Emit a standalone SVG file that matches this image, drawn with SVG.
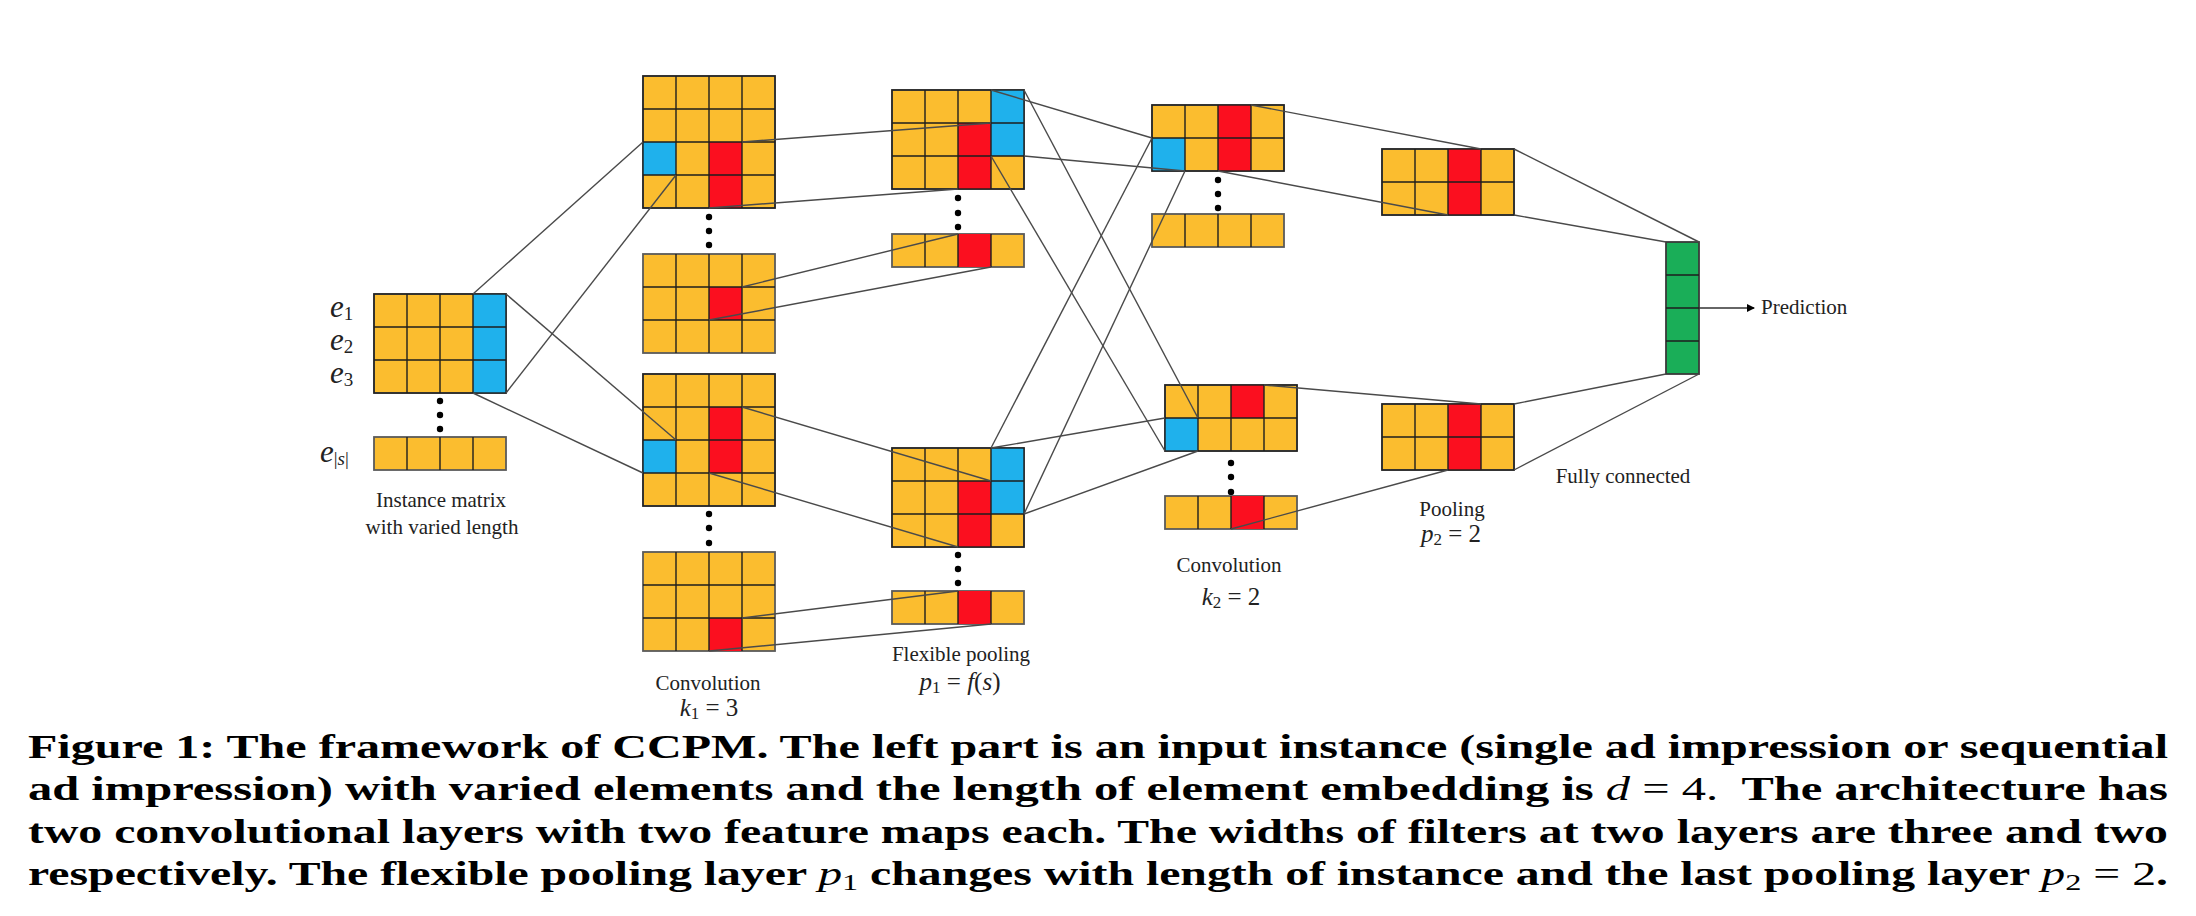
<svg xmlns="http://www.w3.org/2000/svg" width="2196" height="916" viewBox="0 0 2196 916">
<style>
.o{fill:#FBBD2F;stroke:#5a5a5a;stroke-width:1.8}
.b{fill:#1FB1EC}
.r{fill:#FB0F1F}
.g{fill:#1AAE58;stroke:#3a3a3a;stroke-width:1.8}
.grid{fill:none;stroke:#1e1e1e;stroke-width:1.4}
.con{fill:none;stroke:#4a4a4a;stroke-width:1.4}
.dot{fill:#000}
.lbl{font-family:"Liberation Serif",serif;font-size:21px;fill:#222;text-anchor:middle}
.math{font-family:"Liberation Serif",serif;font-style:italic;fill:#222}
.cap{font-family:"Liberation Serif",serif;font-weight:bold;font-size:34px;fill:#000}
</style>
<defs>
<marker id="arr" markerWidth="8" markerHeight="8" refX="7" refY="4" orient="auto" markerUnits="userSpaceOnUse">
<path d="M0,0 L8,4 L0,8 Z" fill="#000"/>
</marker>
</defs>

<!-- Instance matrix -->
<g id="instance">
<rect class="o" x="374" y="294" width="132" height="99"/>
<rect class="b" x="473" y="294" width="33" height="99"/>
<path class="grid" d="M407 294V393M440 294V393M473 294V393M374 327H506M374 360H506"/>
<rect class="grid" x="374" y="294" width="132" height="99"/>
<circle class="dot" cx="440" cy="401" r="3.2"/><circle class="dot" cx="440" cy="415" r="3.2"/><circle class="dot" cx="440" cy="429" r="3.2"/>
<rect class="o" x="374" y="437" width="132" height="33"/>
<path class="grid" d="M407 437V470M440 437V470M473 437V470"/>
<text class="math" x="330" y="317" font-size="31">e<tspan font-style="normal" font-size="19" dy="3">1</tspan></text>
<text class="math" x="330" y="350" font-size="31">e<tspan font-style="normal" font-size="19" dy="3">2</tspan></text>
<text class="math" x="330" y="383" font-size="31">e<tspan font-style="normal" font-size="19" dy="3">3</tspan></text>
<text class="math" x="320" y="462" font-size="31">e<tspan font-size="19" dy="3"><tspan font-style="normal">|</tspan>s<tspan font-style="normal">|</tspan></tspan></text>
<text class="lbl" x="441" y="507">Instance matrix</text>
<text class="lbl" x="442" y="534">with varied length</text>
</g>

<!-- Convolution layer 1 -->
<g id="conv1-map1">
<rect class="o" x="643" y="76" width="132" height="132"/>
<rect class="b" x="643" y="142" width="33" height="33"/>
<rect class="r" x="709" y="142" width="33" height="66"/>
<path class="grid" d="M676 76V208M709 76V208M742 76V208M643 109H775M643 142H775M643 175H775"/>
<rect class="grid" x="643" y="76" width="132" height="132"/>
</g>
<g id="conv1-dots1">
<circle class="dot" cx="709" cy="217" r="3.2"/><circle class="dot" cx="709" cy="231" r="3.2"/><circle class="dot" cx="709" cy="245" r="3.2"/>
</g>
<g id="conv1-map1b">
<rect class="o" x="643" y="254" width="132" height="99"/>
<rect class="r" x="709" y="287" width="33" height="33"/>
<path class="grid" d="M676 254V353M709 254V353M742 254V353M643 287H775M643 320H775"/>
</g>
<g id="conv1-map2">
<rect class="o" x="643" y="374" width="132" height="132"/>
<rect class="b" x="643" y="440" width="33" height="33"/>
<rect class="r" x="709" y="407" width="33" height="66"/>
<path class="grid" d="M676 374V506M709 374V506M742 374V506M643 407H775M643 440H775M643 473H775"/>
<rect class="grid" x="643" y="374" width="132" height="132"/>
</g>
<g id="conv1-dots2">
<circle class="dot" cx="709" cy="514" r="3.2"/><circle class="dot" cx="709" cy="528" r="3.2"/><circle class="dot" cx="709" cy="543" r="3.2"/>
</g>
<g id="conv1-map2b">
<rect class="o" x="643" y="552" width="132" height="99"/>
<rect class="r" x="709" y="618" width="33" height="33"/>
<path class="grid" d="M676 552V651M709 552V651M742 552V651M643 585H775M643 618H775"/>
</g>
<g id="conv1-label">
<text class="lbl" x="708" y="690">Convolution</text>
<text class="math" x="709" y="716" font-size="25" text-anchor="middle">k<tspan font-style="normal" font-size="17" dy="3">1</tspan><tspan font-style="normal" dy="-3"> = 3</tspan></text>
</g>

<!-- Flexible pooling layer 1 -->
<g id="pool1-map1">
<rect class="o" x="892" y="90" width="132" height="99"/>
<rect class="b" x="991" y="90" width="33" height="66"/>
<rect class="r" x="958" y="123" width="33" height="66"/>
<path class="grid" d="M925 90V189M958 90V189M991 90V189M892 123H1024M892 156H1024"/>
<rect class="grid" x="892" y="90" width="132" height="99"/>
</g>
<g id="pool1-dots1">
<circle class="dot" cx="958" cy="198" r="3.2"/><circle class="dot" cx="958" cy="213" r="3.2"/><circle class="dot" cx="958" cy="227" r="3.2"/>
</g>
<g id="pool1-map1b">
<rect class="o" x="892" y="234" width="132" height="33"/>
<rect class="r" x="958" y="234" width="33" height="33"/>
<path class="grid" d="M925 234V267M958 234V267M991 234V267"/>
</g>
<g id="pool1-map2">
<rect class="o" x="892" y="448" width="132" height="99"/>
<rect class="b" x="991" y="448" width="33" height="66"/>
<rect class="r" x="958" y="481" width="33" height="66"/>
<path class="grid" d="M925 448V547M958 448V547M991 448V547M892 481H1024M892 514H1024"/>
<rect class="grid" x="892" y="448" width="132" height="99"/>
</g>
<g id="pool1-dots2">
<circle class="dot" cx="958" cy="555" r="3.2"/><circle class="dot" cx="958" cy="569" r="3.2"/><circle class="dot" cx="958" cy="583" r="3.2"/>
</g>
<g id="pool1-map2b">
<rect class="o" x="892" y="591" width="132" height="33"/>
<rect class="r" x="958" y="591" width="33" height="33"/>
<path class="grid" d="M925 591V624M958 591V624M991 591V624"/>
</g>
<g id="pool1-label">
<text class="lbl" x="961" y="661">Flexible pooling</text>
<text class="math" x="960" y="690" font-size="25" text-anchor="middle">p<tspan font-style="normal" font-size="17" dy="3">1</tspan><tspan font-style="normal" dy="-3"> = </tspan>f<tspan font-style="normal">(</tspan>s<tspan font-style="normal">)</tspan></text>
</g>

<!-- Convolution layer 2 -->
<g id="conv2-map1">
<rect class="o" x="1152" y="105" width="132" height="66"/>
<rect class="b" x="1152" y="138" width="33" height="33"/>
<rect class="r" x="1218" y="105" width="33" height="66"/>
<path class="grid" d="M1185 105V171M1218 105V171M1251 105V171M1152 138H1284"/>
<rect class="grid" x="1152" y="105" width="132" height="66"/>
</g>
<g id="conv2-dots1">
<circle class="dot" cx="1218" cy="180" r="3.2"/><circle class="dot" cx="1218" cy="194" r="3.2"/><circle class="dot" cx="1218" cy="208" r="3.2"/>
</g>
<g id="conv2-map1b">
<rect class="o" x="1152" y="214" width="132" height="33"/>
<path class="grid" d="M1185 214V247M1218 214V247M1251 214V247"/>
</g>
<g id="conv2-map2">
<rect class="o" x="1165" y="385" width="132" height="66"/>
<rect class="b" x="1165" y="418" width="33" height="33"/>
<rect class="r" x="1231" y="385" width="33" height="33"/>
<path class="grid" d="M1198 385V451M1231 385V451M1264 385V451M1165 418H1297"/>
<rect class="grid" x="1165" y="385" width="132" height="66"/>
</g>
<g id="conv2-dots2">
<circle class="dot" cx="1231" cy="463" r="3.2"/><circle class="dot" cx="1231" cy="477" r="3.2"/><circle class="dot" cx="1231" cy="492" r="3.2"/>
</g>
<g id="conv2-map2b">
<rect class="o" x="1165" y="496" width="132" height="33"/>
<rect class="r" x="1231" y="496" width="33" height="33"/>
<path class="grid" d="M1198 496V529M1231 496V529M1264 496V529"/>
</g>
<g id="conv2-label">
<text class="lbl" x="1229" y="572">Convolution</text>
<text class="math" x="1231" y="605" font-size="25" text-anchor="middle">k<tspan font-style="normal" font-size="17" dy="3">2</tspan><tspan font-style="normal" dy="-3"> = 2</tspan></text>
</g>

<!-- Pooling layer 2 -->
<g id="pool2-map1">
<rect class="o" x="1382" y="149" width="132" height="66"/>
<rect class="r" x="1448" y="149" width="33" height="66"/>
<path class="grid" d="M1415 149V215M1448 149V215M1481 149V215M1382 182H1514"/>
<rect class="grid" x="1382" y="149" width="132" height="66"/>
</g>
<g id="pool2-map2">
<rect class="o" x="1382" y="404" width="132" height="66"/>
<rect class="r" x="1448" y="404" width="33" height="66"/>
<path class="grid" d="M1415 404V470M1448 404V470M1481 404V470M1382 437H1514"/>
<rect class="grid" x="1382" y="404" width="132" height="66"/>
</g>
<g id="pool2-label">
<text class="lbl" x="1452" y="516">Pooling</text>
<text class="math" x="1451" y="542" font-size="25" text-anchor="middle">p<tspan font-style="normal" font-size="17" dy="3">2</tspan><tspan font-style="normal" dy="-3"> = 2</tspan></text>
</g>

<!-- Fully connected -->
<g id="fc">
<rect class="g" x="1666" y="242" width="33" height="132"/>
<path class="grid" d="M1666 275H1699M1666 308H1699M1666 341H1699"/>
<text class="lbl" x="1623" y="483">Fully connected</text>
</g>
<g id="prediction">
<text x="1761" y="314" font-family="Liberation Serif, serif" font-size="21" fill="#222">Prediction</text>
</g>

<!-- Connectors -->
<g id="connectors" class="con">
<line x1="473" y1="294" x2="643" y2="142"/>
<line x1="506" y1="393" x2="676" y2="175"/>
<line x1="506" y1="294" x2="676" y2="440"/>
<line x1="473" y1="393" x2="643" y2="473"/>
<line x1="742" y1="142" x2="991" y2="123"/>
<line x1="709" y1="208" x2="958" y2="189"/>
<line x1="742" y1="287" x2="958" y2="234"/>
<line x1="709" y1="320" x2="991" y2="267"/>
<line x1="742" y1="407" x2="991" y2="481"/>
<line x1="709" y1="473" x2="958" y2="547"/>
<line x1="742" y1="618" x2="958" y2="591"/>
<line x1="709" y1="651" x2="991" y2="624"/>
<line x1="991" y1="90" x2="1152" y2="138"/>
<line x1="1024" y1="156" x2="1185" y2="171"/>
<line x1="1024" y1="90" x2="1198" y2="418"/>
<line x1="991" y1="156" x2="1165" y2="451"/>
<line x1="991" y1="448" x2="1152" y2="138"/>
<line x1="1024" y1="514" x2="1185" y2="171"/>
<line x1="991" y1="448" x2="1165" y2="418"/>
<line x1="1024" y1="514" x2="1198" y2="451"/>
<line x1="1251" y1="105" x2="1481" y2="149"/>
<line x1="1218" y1="171" x2="1448" y2="215"/>
<line x1="1264" y1="385" x2="1481" y2="404"/>
<line x1="1231" y1="529" x2="1448" y2="470"/>
<line x1="1514" y1="149" x2="1699" y2="242"/>
<line x1="1514" y1="215" x2="1666" y2="242"/>
<line x1="1514" y1="404" x2="1666" y2="374"/>
<line x1="1514" y1="470" x2="1699" y2="374"/>
<line x1="1699" y1="308" x2="1754" y2="308" marker-end="url(#arr)" stroke="#333"/>
</g>

<!-- Caption -->
<g id="caption" class="cap">
<text x="28" y="758" textLength="2140" lengthAdjust="spacingAndGlyphs">Figure 1: The framework of CCPM. The left part is an input instance (single ad impression or sequential</text>
<text x="28" y="800" textLength="2140" lengthAdjust="spacingAndGlyphs" xml:space="preserve">ad impression) with varied elements and the length of element embedding is <tspan font-weight="normal" font-style="italic">d</tspan> <tspan font-weight="normal">= 4.</tspan>  The architecture has</text>
<text x="28" y="843" textLength="2140" lengthAdjust="spacingAndGlyphs">two convolutional layers with two feature maps each. The widths of filters at two layers are three and two</text>
<text x="28" y="885" textLength="2140" lengthAdjust="spacingAndGlyphs">respectively. The flexible pooling layer <tspan font-weight="normal" font-style="italic">p</tspan><tspan font-weight="normal" font-size="23" dy="5">1</tspan><tspan dy="-5"> changes with length of instance and the last pooling layer </tspan><tspan font-weight="normal" font-style="italic">p</tspan><tspan font-weight="normal" font-size="23" dy="5">2</tspan><tspan font-weight="normal" dy="-5"> = 2</tspan>.</text>
</g>
</svg>
